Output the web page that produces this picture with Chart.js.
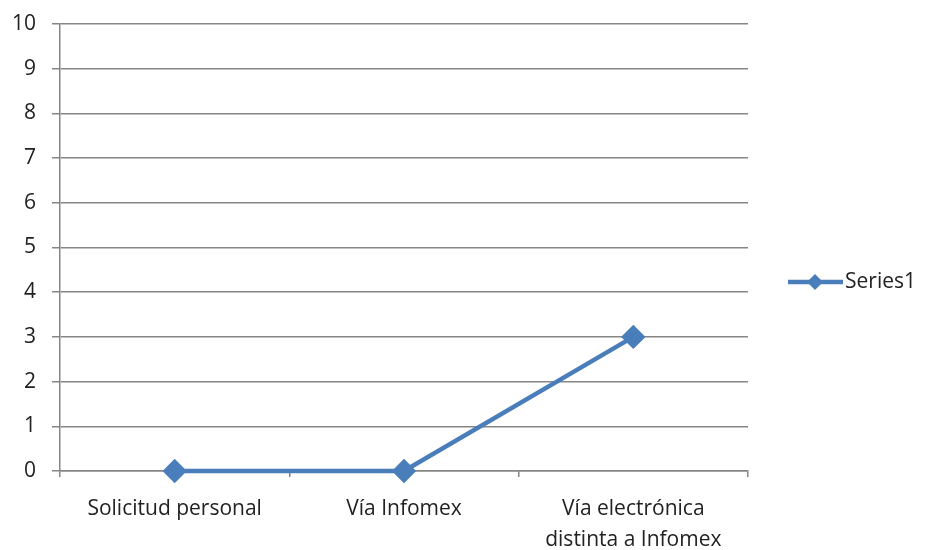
<!DOCTYPE html>
<html><head><meta charset="utf-8">
<script src="https://cdn.jsdelivr.net/npm/chart.js@4/dist/chart.umd.min.js"></script>
<style>html,body{margin:0;padding:0;background:#fff}#wrap{width:926px;height:550px}</style>
</head><body><div id="wrap"><canvas id="c" width="926" height="550"></canvas></div>
<script>
const categories = [["Solicitud personal"], ["Vía Infomex"], ["Vía electrónica", "distinta a Infomex"]];
const seriesName = "Series1";
const seriesValues = [0, 0, 3];
const yTicks = [0,1,2,3,4,5,6,7,8,9,10];

const FONT = "'Open Sans', sans-serif";
const LINE = "#4A7EBB";
const GRID = "#868686";
const TEXT = "#222";

const legendPlugin = {
  id: 'sideLegend',
  afterDraw(chart) {
    const ctx = chart.ctx;
    const ds = chart.data.datasets[0];
    const y = 282;
    ctx.save();
    ctx.strokeStyle = LINE; ctx.lineWidth = 4.5;
    ctx.beginPath(); ctx.moveTo(788, y); ctx.lineTo(843, y); ctx.stroke();
    ctx.fillStyle = LINE;
    ctx.beginPath(); ctx.moveTo(815, y-8); ctx.lineTo(823, y); ctx.lineTo(815, y+8); ctx.lineTo(807, y); ctx.closePath(); ctx.fill();
    ctx.fillStyle = TEXT; ctx.font = "21px " + FONT; ctx.textBaseline = 'middle';
    ctx.fillText(ds.label, 845, y);
    ctx.restore();
  }
};

new Chart(document.getElementById('c'), {
  type: 'line',
  data: {
    labels: categories,
    datasets: [{
      label: seriesName,
      data: seriesValues,
      borderColor: LINE,
      backgroundColor: LINE,
      borderWidth: 4.5,
      pointStyle: 'rectRot',
      pointRadius: 9,
      pointHoverRadius: 9,
      tension: 0,
      clip: false
    }]
  },
  options: {
    responsive: false,
    animation: false,
    layout: { padding: { left: 0, right: 178, top: 24, bottom: 0 } },
    plugins: { legend: { display: false }, tooltip: { enabled: false } },
    scales: {
      x: {
        offset: true,
        grid: { offset: true, drawOnChartArea: false, drawTicks: true, tickLength: 6, color: GRID, lineWidth: 1.5 },
        border: { display: true, color: GRID, width: 1.5 },
        ticks: { font: { family: FONT, size: 21, lineHeight: 1.45 }, color: TEXT, padding: 17, maxRotation: 0, autoSkip: false },
        afterFit(s) { s.height = 79; }
      },
      y: {
        min: 0, max: 10,
        afterBuildTicks(s) { s.ticks = yTicks.map(v => ({ value: v })); },
        grid: { color: GRID, lineWidth: 1.5, tickLength: 8 },
        border: { display: true, color: GRID, width: 1.5 },
        ticks: { font: { family: FONT, size: 21 }, color: TEXT, padding: 16 },
        afterFit(s) { s.width = 60; s.paddingTop = 0; s.paddingBottom = 0; }
      }
    }
  },
  plugins: [legendPlugin]
});
</script></body></html>
